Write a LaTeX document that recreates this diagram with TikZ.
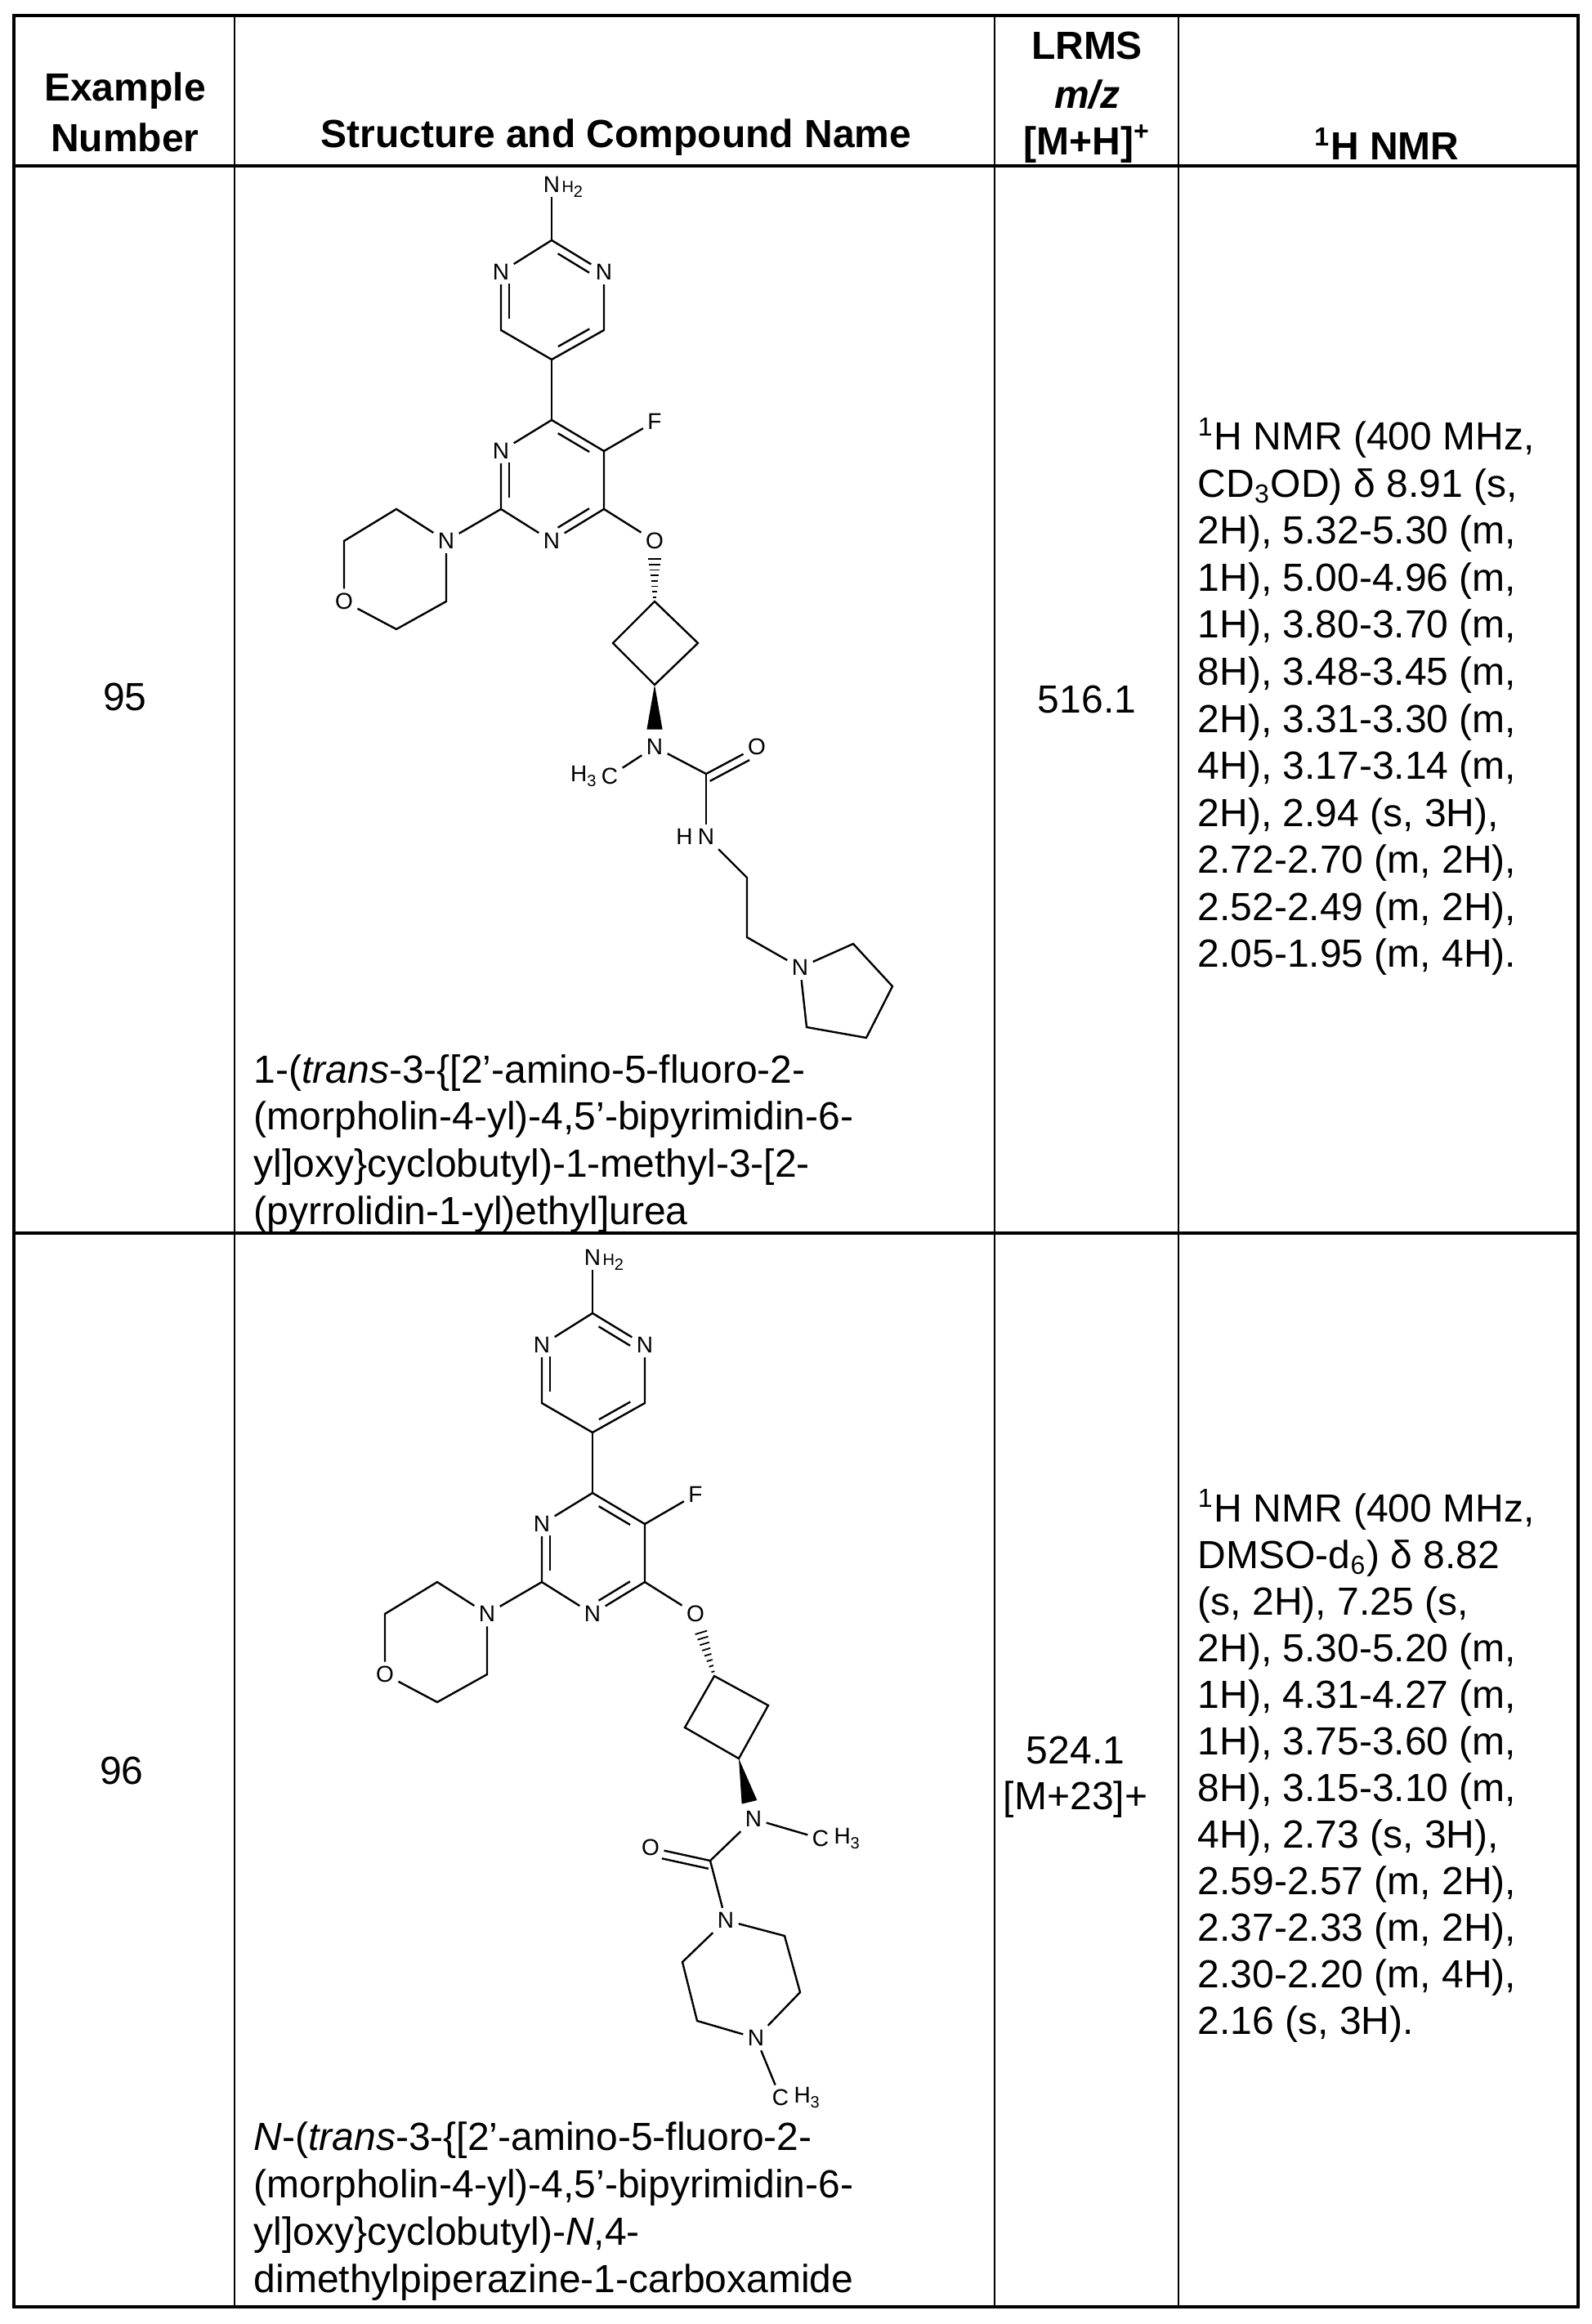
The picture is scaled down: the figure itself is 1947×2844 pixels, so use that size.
\documentclass[tikz,border=0pt]{standalone}
\usepackage{fontspec}
\setmainfont{Liberation Sans}
\usetikzlibrary{calc}
\tikzset{
  atom/.style={font=\fontsize{7}{8}\selectfont, inner sep=1.2pt},
  sub/.style={font=\fontsize{5}{6}\selectfont, inner sep=0pt},
  bond/.style={line width=0.6pt},
  txt/.style={font=\fontsize{12}{14.4}\selectfont, inner sep=0pt},
  hdr/.style={font=\bfseries\fontsize{12}{14.4}\selectfont, inner sep=0pt},
  grid/.style={line width=0.7pt},
  heavy/.style={line width=1.1pt}
}
\newcommand\dbin[2]{\draw[bond] ($(#1)!.2!(#2)!2.5pt!-90:(#2)$) -- ($(#2)!.2!(#1)!2.5pt!90:(#1)$);}
\newcommand\hashw[2]{\foreach \t in {0.3,0.39,...,0.95}{\draw[line width=0.45pt] ($(#1)!\t!(#2)!{2.2pt*(1.05-\t)+0.25pt}!90:(#2)$) -- ($(#1)!\t!(#2)!{2.2pt*(1.05-\t)+0.25pt}!-90:(#2)$);}}
\newcommand\solidw[2]{\fill ($(#1)$) -- ($($(#1)!.72!(#2)$)!2.4pt!90:(#2)$) -- ($($(#1)!.72!(#2)$)!2.4pt!-90:(#2)$) -- cycle;}
\newcommand\corepart[1]{%
  \coordinate (#1c2p) at (675,294);
  \node[atom] (#1nh) at (675,226) {N};
  \node[sub, anchor=base west] at ($(#1nh.base east)+(-1pt,0)$) {H\raisebox{-1.5pt}{2}};
  \node[atom] (#1n1p) at (613,333) {N};
  \node[atom] (#1n3p) at (739,333) {N};
  \coordinate (#1c6p) at (613,404);
  \coordinate (#1c4p) at (739,404);
  \coordinate (#1c5p) at (675,440);
  \coordinate (#1c4) at (675,514);
  \node[atom] (#1n3) at (613,552) {N};
  \coordinate (#1c5) at (739,552);
  \coordinate (#1c2) at (613,623);
  \coordinate (#1c6) at (739,623);
  \node[atom] (#1n1) at (675,662) {N};
  \node[atom] (#1o) at (801,662) {O};
  \node[atom] (#1f) at (801,516) {F};
  \node[atom] (#1mn) at (546,662) {N};
  \coordinate (#1m1) at (485,623);
  \coordinate (#1m2) at (421,662);
  \node[atom] (#1mo) at (421,736) {O};
  \coordinate (#1m3) at (485,770);
  \coordinate (#1m4) at (546,736);
  \draw[bond] (#1c2p) -- (#1nh);
  \draw[bond] (#1n1p) -- (#1c2p) -- (#1n3p) -- (#1c4p) -- (#1c5p) -- (#1c6p) -- (#1n1p);
  \draw[bond] (#1c5p) -- (#1c4);
  \draw[bond] (#1n3) -- (#1c4) -- (#1c5) -- (#1c6) -- (#1n1) -- (#1c2) -- (#1n3);
  \draw[bond] (#1c5) -- (#1f);
  \draw[bond] (#1c6) -- (#1o);
  \draw[bond] (#1c2) -- (#1mn);
  \draw[bond] (#1mn) -- (#1m1) -- (#1m2) -- (#1mo) -- (#1m3) -- (#1m4) -- (#1mn);
  \dbin{#1c2p}{#1n3p}\dbin{#1c4p}{#1c5p}\dbin{#1c6p}{#1n1p}
  \dbin{#1c4}{#1c5}\dbin{#1c6}{#1n1}\dbin{#1c2}{#1n3}
}
\begin{document}
\begin{tikzpicture}[x=0.25pt,y=-0.25pt]
\useasboundingbox (0,0) rectangle (1947,2844);
% table
\draw[heavy] (17,19) rectangle (1931,2823);
\draw[heavy] (17,203) -- (1931,203);
\draw[heavy] (17,1509) -- (1931,1509);
\draw[grid] (287,19) -- (287,2823);
\draw[grid] (1217,19) -- (1217,2823);
\draw[grid] (1442,19) -- (1442,2823);
% header
\node[hdr] (h1a) at (153,111) {Example};
\node[hdr] (h1b) at (153,168) {Number};
\node[hdr] (h2) at (754,168) {Structure and Compound Name};
\node[hdr] (h3a) at (1330,56) {LRMS};
\node[hdr] (h3b) at (1330,116) {\itshape m/z};
\node[hdr] (h3c) at (1330,176) {[M+H]\textsuperscript{+}};
\node[hdr] (h4) at (1697,176) {\textsuperscript{1}H NMR};
% row 1
\node[txt] (r1n) at (153,853) {95};
\node[txt] (r1m) at (1330,856) {516.1};
\foreach \l [count=\i from 0] in {{\textsuperscript{1}H NMR (400 MHz,},{CD\textsubscript{3}OD) δ 8.91 (s,},{2H), 5.32-5.30 (m,},{1H), 5.00-4.96 (m,},{1H), 3.80-3.70 (m,},{8H), 3.48-3.45 (m,},{2H), 3.31-3.30 (m,},{4H), 3.17-3.14 (m,},{2H), 2.94 (s, 3H),},{2.72-2.70 (m, 2H),},{2.52-2.49 (m, 2H),},{2.05-1.95 (m, 4H).}}
  \node[txt, anchor=base west] at (1465,{551+57.5*\i}) {\l};
\foreach \l [count=\i from 0] in {{1-(\textit{trans}-3-\{[2'-amino-5-fluoro-2-},{(morpholin-4-yl)-4,5'-bipyrimidin-6-},{yl]oxy\}cyclobutyl)-1-methyl-3-[2-},{(pyrrolidin-1-yl)ethyl]urea}}
  \node[txt, anchor=base west] at (310,{1325+57.7*\i}) {\l};
% row 2
\node[txt] (r2n) at (149,2167) {96};
\node[txt] (r2m1) at (1316,2142) {524.1};
\node[txt] (r2m2) at (1316,2202) {[M+23]+};
\foreach \l [count=\i from 0] in {{\textsuperscript{1}H NMR (400 MHz,},{DMSO-d\textsubscript{6}) δ 8.82},{(s, 2H), 7.25 (s,},{2H), 5.30-5.20 (m,},{1H), 4.31-4.27 (m,},{1H), 3.75-3.60 (m,},{8H), 3.15-3.10 (m,},{4H), 2.73 (s, 3H),},{2.59-2.57 (m, 2H),},{2.37-2.33 (m, 2H),},{2.30-2.20 (m, 4H),},{2.16 (s, 3H).}}
  \node[txt, anchor=base west] at (1465,{1862+57*\i}) {\l};
\foreach \l [count=\i from 0] in {{\textit{N}-(\textit{trans}-3-\{[2'-amino-5-fluoro-2-},{(morpholin-4-yl)-4,5'-bipyrimidin-6-},{yl]oxy\}cyclobutyl)-\textit{N},4-},{dimethylpiperazine-1-carboxamide}}
  \node[txt, anchor=base west] at (310,{2631+58*\i}) {\l};
% molecule 1
\corepart{a}
\coordinate (acbt) at (801,736);
\coordinate (acbl) at (750,787);
\coordinate (acbr) at (854,787);
\coordinate (acbb) at (801,838);
\draw[bond] (acbt) -- (acbl) -- (acbb) -- (acbr) -- cycle;
\hashw{ao}{acbt}
\node[atom] (aun) at (801,914) {N};
\solidw{acbb}{aun}
\node[atom] (amc) at (746,950) {C};
\node[atom, anchor=east, inner sep=0pt] at (amc.west) {H\raisebox{-1.5pt}{\fontsize{5}{6}\selectfont 3}};
\draw[bond] (aun) -- (amc);
\coordinate (acc) at (864,947);
\node[atom] (auo) at (926,914) {O};
\draw[bond] (aun) -- (acc) -- (auo);
\draw[bond] ($(acc)!2.5pt!-90:(auo)$) -- ($($(auo)!.22!(acc)$)!2.5pt!90:(acc)$);
\node[atom] (ahn) at (864,1024) {N};
\node[atom, anchor=east, inner sep=0pt] at (ahn.west) {H};
\draw[bond] (acc) -- (ahn);
\coordinate (ae1) at (914,1074);
\coordinate (ae2) at (914,1147);
\node[atom] (apn) at (979,1184) {N};
\coordinate (ap1) at (1044,1155);
\coordinate (ap2) at (1092,1207);
\coordinate (ap3) at (1060,1270);
\coordinate (ap4) at (987,1257);
\draw[bond] (ahn) -- (ae1) -- (ae2) -- (apn);
\draw[bond] (apn) -- (ap1) -- (ap2) -- (ap3) -- (ap4) -- (apn);
% molecule 2
\begin{scope}[shift={(50,1313)}]
\corepart{b}
\end{scope}
\coordinate (bcbt) at (874,2051);
\coordinate (bcbr) at (940,2087);
\coordinate (bcbb) at (904,2152);
\coordinate (bcbl) at (838,2114);
\draw[bond] (bcbt) -- (bcbr) -- (bcbb) -- (bcbl) -- cycle;
\hashw{bo}{bcbt}
\node[atom] (bun) at (922,2226) {N};
\solidw{bcbb}{bun}
\node[atom] (bmc) at (1004,2250) {C};
\node[atom, anchor=west, inner sep=0pt] at (bmc.east) {H\raisebox{-1.5pt}{\fontsize{5}{6}\selectfont 3}};
\draw[bond] (bun) -- (bmc);
\coordinate (bcc) at (869,2277);
\node[atom] (buo) at (796,2261) {O};
\draw[bond] (bun) -- (bcc) -- (buo);
\draw[bond] ($(bcc)!2.5pt!90:(buo)$) -- ($($(buo)!.22!(bcc)$)!2.5pt!-90:(bcc)$);
\node[atom] (bq1) at (888,2350) {N};
\coordinate (bq2) at (960,2369);
\coordinate (bq3) at (979,2438);
\node[atom] (bq4) at (925,2494) {N};
\coordinate (bq5) at (853,2473);
\coordinate (bq6) at (835,2401);
\draw[bond] (bcc) -- (bq1);
\draw[bond] (bq1) -- (bq2) -- (bq3) -- (bq4) -- (bq5) -- (bq6) -- (bq1);
\node[atom] (bc2) at (955,2567) {C};
\node[atom, anchor=west, inner sep=0pt] at (bc2.east) {H\raisebox{-1.5pt}{\fontsize{5}{6}\selectfont 3}};
\draw[bond] (bq4) -- (bc2);
\end{tikzpicture}
\end{document}
